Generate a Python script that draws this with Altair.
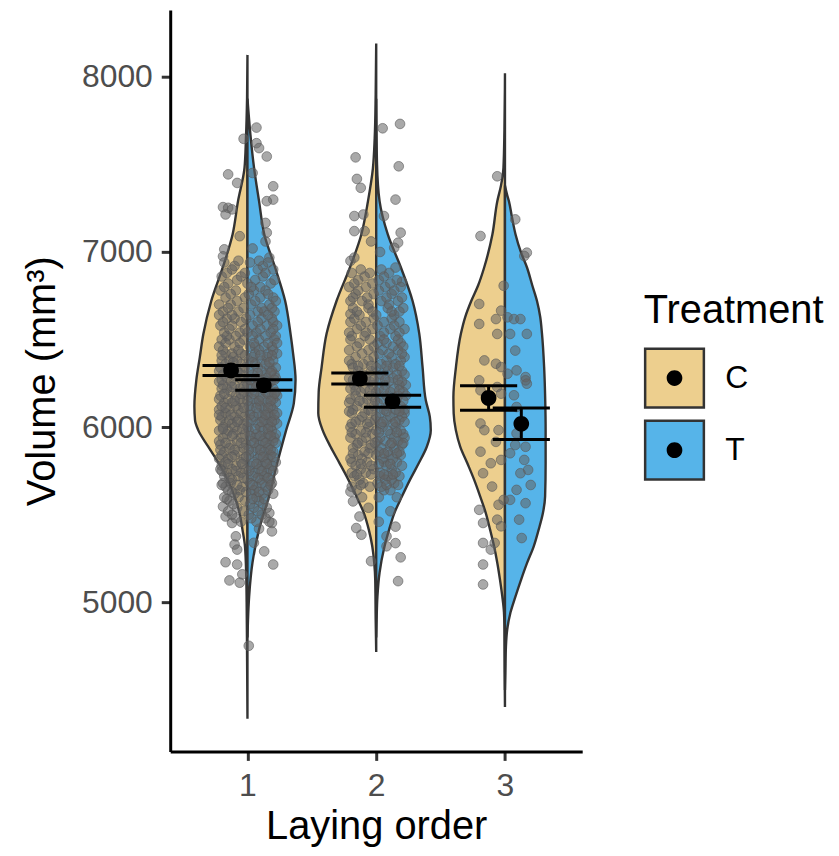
import altair as alt
import numpy as np
import pandas as pd

FONT = "Liberation Sans"

groups = [1, 2, 3]
treatments = ["C", "T"]
fill_colors = ["#EDCF8E", "#56B4E9"]

# violin half profiles: (Volume, relative width 0..1)
violin_C1 = [(8125, 0), (7875, 0.007), (7650, 0.026), (7480, 0.051), (7290, 0.163), (7100, 0.257),
             (6910, 0.428), (6720, 0.625), (6530, 0.762), (6400, 0.822), (6270, 0.882), (6120, 0.916),
             (6040, 0.905), (5983, 0.85), (5890, 0.68), (5795, 0.497), (5700, 0.342), (5605, 0.223),
             (5510, 0.137), (5415, 0.086), (5320, 0.043), (5150, 0.021), (5000, 0.014), (4700, 0.007),
             (4335, 0)]
violin_T1 = [(7875, 0), (7670, 0.051), (7477, 0.115), (7290, 0.200), (7100, 0.291), (6910, 0.479),
             (6720, 0.651), (6534, 0.743), (6420, 0.788), (6270, 0.830), (6136, 0.800), (5983, 0.668),
             (5795, 0.514), (5605, 0.372), (5415, 0.200), (5225, 0.086), (5034, 0.029), (4900, 0.009),
             (4800, 0)]
violin_C2 = [(8190, 0), (7900, 0.009), (7650, 0.026), (7477, 0.057), (7290, 0.142), (7100, 0.257),
             (6910, 0.455), (6720, 0.685), (6534, 0.856), (6343, 0.942), (6200, 0.993), (6080, 1.0),
             (5983, 0.925), (5888, 0.788), (5795, 0.634), (5699, 0.479), (5605, 0.342), (5511, 0.214),
             (5415, 0.128), (5320, 0.068), (5225, 0.034), (5130, 0.017), (4900, 0.009), (4716, 0)]
violin_T2 = [(7875, 0), (7500, 0.014), (7290, 0.058), (7100, 0.200), (6910, 0.428), (6720, 0.628),
             (6534, 0.743), (6343, 0.800), (6153, 0.856), (6060, 0.925), (5983, 0.942), (5888, 0.873),
             (5795, 0.736), (5699, 0.582), (5605, 0.445), (5511, 0.315), (5415, 0.223), (5320, 0.144),
             (5170, 0.058), (5034, 0.021), (4900, 0.007), (4800, 0)]
violin_C3 = [(8020, 0), (7700, 0.009), (7480, 0.026), (7380, 0.068), (7290, 0.132), (7100, 0.217),
             (6910, 0.360), (6810, 0.462), (6720, 0.582), (6630, 0.685), (6534, 0.760), (6343, 0.846),
             (6172, 0.890), (6078, 0.885), (5983, 0.848), (5888, 0.771), (5795, 0.651), (5699, 0.531),
             (5605, 0.428), (5511, 0.332), (5415, 0.257), (5320, 0.188), (5225, 0.132), (5130, 0.086),
             (5034, 0.046), (4943, 0.017), (4845, 0.009), (4600, 0.005), (4403, 0)]
violin_T3 = [(7380, 0), (7330, 0.034), (7290, 0.068), (7200, 0.120), (7100, 0.183), (7000, 0.274),
             (6910, 0.382), (6810, 0.471), (6720, 0.553), (6630, 0.608), (6534, 0.639), (6343, 0.676),
             (6153, 0.695), (5983, 0.702), (5795, 0.702), (5605, 0.693), (5511, 0.656), (5415, 0.582),
             (5320, 0.497), (5225, 0.382), (5130, 0.279), (5034, 0.182), (4943, 0.096), (4845, 0.039),
             (4750, 0.017), (4600, 0.007), (4500, 0)]

# group means with error limits
mean_grp = [1, 1, 2, 2, 3, 3]
mean_trt = ["C", "T", "C", "T", "C", "T"]
mean_val = [6324, 6239, 6277, 6148, 6167, 6019]
mean_lo = [6295, 6210, 6246, 6114, 6097, 5930]
mean_hi = [6352, 6271, 6309, 6182, 6237, 6110]

# jittered observations: (offset from group, Volume) and rows (Volume, [offsets])
g1_outer = [(0.07, 7710), (-0.03, 7646), (0.07, 7621), (0.09, 7593), (0.15, 7545), (0.04, 7451),
            (-0.15, 7443), (-0.08, 7394), (0.20, 7375), (0.20, 7299), (0.15, 7290), (-0.19, 7256),
            (-0.15, 7252), (-0.12, 7243), (-0.17, 7214), (0.14, 7166), (0.15, 7110), (0.14, 7060),
            (-0.18, 7015), (-0.19, 6975), (0.17, 6968), (0.04, 7020), (-0.06, 7090),
            (-0.19, 5680), (-0.19, 5547), (-0.17, 5490), (-0.12, 5453), (-0.09, 5377), (-0.10, 5330),
            (-0.08, 5301), (-0.17, 5229), (-0.08, 5216), (0.20, 5216), (0.13, 5291), (0.19, 5453),
            (0.19, 5405), (0.17, 5510), (-0.14, 5125), (-0.06, 5112), (-0.04, 5160), (0.01, 4752),
            (0.05, 5340), (0.09, 5420)]
g1_core = [
    (6940, [-0.18, 0.02, 0.16]), (6900, [-0.12, 0.08, 0.20]), (6860, [-0.20, -0.05, 0.12]),
    (6820, [-0.15, 0.00, 0.18]), (6780, [-0.21, -0.09, 0.05, 0.14]), (6740, [-0.17, -0.02, 0.10, 0.20]),
    (6700, [-0.22, -0.13, 0.03, 0.17]), (6660, [-0.19, -0.07, 0.08, 0.13, 0.21]),
    (6620, [-0.16, -0.10, -0.01, 0.11, 0.19]), (6580, [-0.21, -0.12, 0.04, 0.15, 0.23]),
    (6540, [-0.18, -0.06, 0.00, 0.07, 0.18]), (6500, [-0.20, -0.14, -0.03, 0.09, 0.21]),
    (6460, [-0.22, -0.10, 0.02, 0.06, 0.13, 0.19]), (6420, [-0.17, -0.12, -0.05, 0.06, 0.16, 0.23]),
    (6380, [-0.20, -0.14, -0.08, 0.01, 0.11, 0.20]), (6340, [-0.21, -0.15, -0.02, 0.08, 0.17, 0.22]),
    (6300, [-0.19, -0.11, -0.04, 0.04, 0.14, 0.21]), (6260, [-0.22, -0.13, -0.01, 0.05, 0.09, 0.18]),
    (6220, [-0.20, -0.16, -0.06, 0.03, 0.12, 0.20]), (6180, [-0.21, -0.09, 0.00, 0.10, 0.19, 0.23]),
    (6140, [-0.18, -0.12, -0.04, 0.07, 0.15, 0.22]), (6100, [-0.22, -0.14, -0.07, 0.02, 0.13, 0.20]),
    (6060, [-0.20, -0.10, -0.02, 0.05, 0.11, 0.18]), (6020, [-0.17, -0.12, -0.03, 0.08, 0.16, 0.23]),
    (5980, [-0.22, -0.15, -0.08, 0.01, 0.12, 0.19]), (5940, [-0.19, -0.05, 0.06, 0.14, 0.21]),
    (5900, [-0.21, -0.13, -0.01, 0.09, 0.17]), (5860, [-0.18, -0.07, 0.04, 0.13, 0.20]),
    (5820, [-0.22, -0.15, -0.03, 0.08, 0.16]), (5780, [-0.20, -0.09, 0.02, 0.11, 0.19]),
    (5740, [-0.16, -0.05, 0.06, 0.15]), (5700, [-0.12, 0.00, 0.10, 0.18]),
    (5660, [-0.17, -0.04, 0.07, 0.14]), (5620, [-0.10, 0.03, 0.12, 0.20]),
    (5580, [-0.14, -0.02, 0.09]), (5540, [-0.08, 0.05, 0.15]), (5500, [-0.12, 0.01, 0.11]),
    (5460, [-0.05, 0.07, 0.17]),
    (6920, [-0.10, 0.12]), (6840, [-0.08, 0.06, 0.21]), (6760, [-0.13, 0.01, 0.16]),
    (6680, [-0.15, -0.03, 0.11, 0.19]), (6600, [-0.19, -0.05, 0.08, 0.20]),
    (6520, [-0.16, -0.09, 0.04, 0.14, 0.22]), (6440, [-0.19, -0.07, 0.09, 0.20]),
    (6400, [-0.11, 0.04, 0.15]), (6360, [-0.17, -0.05, 0.06, 0.14]),
    (6320, [-0.22, -0.08, 0.01, 0.11, 0.19]), (6280, [-0.16, -0.06, 0.07, 0.15, 0.22]),
    (6240, [-0.19, -0.10, 0.00, 0.08, 0.16]), (6200, [-0.13, -0.03, 0.06, 0.14, 0.22]),
    (6160, [-0.22, -0.15, -0.06, 0.04, 0.12, 0.20]), (6120, [-0.20, -0.09, 0.01, 0.10, 0.18]),
    (6080, [-0.17, -0.05, 0.08, 0.16, 0.23]), (6040, [-0.21, -0.14, -0.07, 0.03, 0.13, 0.21]),
    (6000, [-0.19, -0.10, 0.00, 0.10, 0.18]), (5960, [-0.16, -0.11, -0.02, 0.07, 0.16, 0.22]),
    (5920, [-0.22, -0.08, 0.03, 0.12, 0.20]), (5880, [-0.14, -0.03, 0.07, 0.16]),
    (5840, [-0.20, -0.10, 0.01, 0.10, 0.18]), (5800, [-0.17, -0.05, 0.05, 0.14, 0.22]),
    (5760, [-0.21, -0.12, -0.01, 0.09, 0.17]), (5720, [-0.18, -0.07, 0.04, 0.13]),
    (5680, [-0.13, 0.02, 0.11, 0.19]), (5640, [-0.15, -0.06, 0.05, 0.16]),
    (5600, [-0.18, -0.07, 0.07]), (5560, [-0.11, 0.02, 0.12]), (5520, [-0.15, -0.03, 0.08]),
    (5480, [-0.09, 0.03, 0.14]),
    (6950, [-0.07, 0.09]), (6880, [-0.16, -0.02, 0.14]), (6800, [-0.18, 0.03, 0.10]),
    (6720, [-0.08, 0.06, 0.22]), (6640, [-0.22, -0.12, 0.02, 0.16]),
    (6560, [-0.14, -0.02, 0.10, 0.20]), (6480, [-0.17, -0.06, 0.05, 0.16, 0.23]),
    (6410, [-0.20, -0.02, 0.10, 0.19]), (6370, [-0.11, 0.04, 0.17]),
    (6310, [-0.15, -0.07, 0.08, 0.18]), (6270, [-0.20, 0.02, 0.12, 0.21]),
    (6230, [-0.12, -0.03, 0.07, 0.15]), (6190, [-0.18, -0.05, 0.05, 0.16, 0.21]),
    (6150, [-0.10, 0.00, 0.09, 0.18]), (6110, [-0.17, -0.03, 0.07, 0.16]),
    (6070, [-0.22, -0.13, 0.02, 0.14, 0.21]), (6030, [-0.08, 0.00, 0.11, 0.19]),
    (5990, [-0.19, -0.04, 0.06, 0.16]), (5950, [-0.12, 0.02, 0.10, 0.18]),
    (5910, [-0.17, -0.05, 0.05, 0.14, 0.22]), (5870, [-0.21, -0.10, 0.01, 0.10, 0.18]),
    (5830, [-0.12, -0.01, 0.12, 0.20]), (5790, [-0.15, -0.04, 0.07, 0.15]),
    (5750, [-0.20, -0.09, 0.01, 0.11, 0.20]), (5710, [-0.14, -0.03, 0.08, 0.16]),
    (5670, [-0.20, -0.08, 0.04, 0.18]), (5630, [-0.12, -0.01, 0.09]), (5590, [-0.16, 0.04, 0.13]),
]
g2_outer = [(0.185, 7731), (0.05, 7706), (-0.16, 7540), (0.175, 7489), (-0.15, 7417), (-0.12, 7366),
            (0.15, 7299), (-0.17, 7205), (-0.10, 7214), (0.06, 7205), (-0.17, 7119), (-0.09, 7119),
            (0.19, 7110), (0.17, 7053), (0.14, 7024), (-0.20, 6949), (-0.17, 6968), (0.15, 6911),
            (0.20, 6830), (-0.20, 6646), (0.03, 7000), (-0.04, 7060),
            (-0.20, 5632), (-0.18, 5576), (-0.13, 5490), (-0.155, 5424), (-0.115, 5386), (0.15, 5432),
            (0.15, 5338), (-0.04, 5235), (0.19, 5257), (0.17, 5121), (0.08, 5377), (0.08, 5320),
            (0.02, 5460), (-0.06, 5540), (0.11, 5520)]
g2_core = [
    (6880, [-0.19, -0.05, 0.10]), (6840, [-0.14, 0.02, 0.16]), (6800, [-0.21, -0.08, 0.07, 0.19]),
    (6760, [-0.16, -0.02, 0.12]), (6720, [-0.20, -0.11, 0.04, 0.17]), (6680, [-0.18, -0.06, 0.09, 0.21]),
    (6640, [-0.13, 0.00, 0.14]), (6600, [-0.20, -0.08, 0.06, 0.18]), (6560, [-0.15, -0.03, 0.11, 0.22]),
    (6520, [-0.19, -0.09, 0.03, 0.15]), (6480, [-0.13, 0.01, 0.08, 0.19]),
    (6440, [-0.21, -0.06, 0.05, 0.17]), (6400, [-0.16, -0.02, 0.12, 0.22]),
    (6360, [-0.19, -0.10, 0.04, 0.15]), (6320, [-0.14, -0.04, 0.09, 0.20]),
    (6280, [-0.21, -0.08, 0.02, 0.13]), (6240, [-0.17, -0.03, 0.07, 0.18, 0.23]),
    (6200, [-0.12, 0.00, 0.11, 0.21]), (6160, [-0.20, -0.07, 0.05, 0.16]),
    (6120, [-0.15, -0.02, 0.09, 0.19]), (6080, [-0.19, -0.09, 0.03, 0.14, 0.22]),
    (6040, [-0.13, -0.01, 0.08, 0.18]), (6000, [-0.20, -0.06, 0.05, 0.15]),
    (5960, [-0.16, -0.03, 0.11, 0.21]), (5920, [-0.11, 0.01, 0.07, 0.17]),
    (5880, [-0.18, -0.05, 0.04, 0.14]), (5840, [-0.14, 0.00, 0.10, 0.19]),
    (5800, [-0.19, -0.07, 0.06, 0.16]), (5760, [-0.12, -0.02, 0.12]),
    (5720, [-0.17, 0.03, 0.09, 0.18]), (5680, [-0.10, 0.01, 0.14]), (5640, [-0.15, 0.06, 0.11]),
    (6860, [-0.09, 0.06]), (6780, [-0.14, 0.02, 0.14]), (6700, [-0.06, 0.10]),
    (6620, [-0.17, -0.02, 0.12]), (6540, [-0.21, -0.08, 0.06, 0.18]),
    (6460, [-0.15, -0.02, 0.13, 0.21]), (6380, [-0.21, -0.06, 0.08, 0.19]),
    (6340, [-0.18, 0.00, 0.13]), (6300, [-0.10, 0.04, 0.16, 0.22]),
    (6260, [-0.15, -0.05, 0.10, 0.20]), (6220, [-0.20, -0.09, 0.02, 0.14]),
    (6180, [-0.16, -0.04, 0.08, 0.17, 0.23]), (6140, [-0.21, -0.10, 0.01, 0.12]),
    (6100, [-0.18, -0.06, 0.06, 0.15, 0.22]), (6060, [-0.11, 0.00, 0.11, 0.20]),
    (6020, [-0.19, -0.07, 0.04, 0.13]), (5980, [-0.12, 0.00, 0.09, 0.19]),
    (5940, [-0.20, -0.08, 0.03, 0.14, 0.22]), (5900, [-0.15, -0.04, 0.11, 0.20]),
    (5860, [-0.09, 0.02, 0.09, 0.18]), (5820, [-0.20, -0.11, 0.05, 0.13]),
    (5780, [-0.16, -0.04, 0.08, 0.20]), (5740, [-0.19, -0.08, 0.03, 0.15]),
    (5700, [-0.13, 0.07, 0.12]), (5660, [-0.19, -0.05, 0.04]), (5600, [-0.11, 0.02, 0.16]),
    (6900, [-0.12, 0.04]), (6820, [-0.17, -0.03, 0.11]), (6740, [-0.18, -0.07, 0.08, 0.20]),
    (6660, [-0.15, -0.03, 0.12, 0.18]), (6580, [-0.12, 0.01, 0.14]),
    (6500, [-0.20, -0.05, 0.06, 0.17]), (6420, [-0.11, 0.02, 0.10, 0.20]),
    (6350, [-0.14, -0.04, 0.08, 0.18]), (6270, [-0.18, -0.02, 0.07, 0.17]),
    (6210, [-0.16, -0.05, 0.06, 0.18]), (6150, [-0.13, -0.01, 0.11, 0.21]),
    (6090, [-0.21, -0.04, 0.08, 0.18]), (6030, [-0.16, -0.05, 0.05, 0.15, 0.22]),
    (5970, [-0.19, -0.08, 0.02, 0.16]), (5910, [-0.14, -0.01, 0.12, 0.21]),
    (5850, [-0.18, -0.06, 0.06, 0.16]), (5790, [-0.12, 0.02, 0.11]),
    (5730, [-0.15, -0.04, 0.06, 0.13]), (5670, [-0.12, 0.08, 0.17]),
]
g3_pts = [(-0.06, 7432), (0.08, 7186), (-0.19, 7091), (0.17, 6996), (0.15, 6977), (-0.01, 6807),
          (-0.20, 6703), (-0.03, 6665), (-0.07, 6617), (0.02, 6627), (0.07, 6617), (0.12, 6617),
          (-0.20, 6589), (-0.06, 6532), (0.04, 6532), (0.17, 6532), (0.08, 6437), (-0.16, 6381),
          (-0.07, 6362), (-0.03, 6343), (0.02, 6305), (0.09, 6324), (0.16, 6286), (0.17, 6248),
          (-0.20, 6267), (-0.06, 6229), (0.16, 6267), (-0.19, 6210), (-0.14, 6153), (-0.03, 6191),
          (0.07, 6182), (0.09, 6115), (-0.19, 6021), (-0.16, 5983), (-0.05, 5983), (-0.07, 5916),
          (0.09, 5964), (0.08, 5898), (0.04, 5851), (0.16, 5888), (0.15, 5813), (0.18, 5756),
          (0.12, 5737), (0.20, 5670), (0.09, 5642), (0.04, 5585), (0.16, 5566), (-0.19, 5860),
          (-0.11, 5794), (-0.03, 5813), (-0.17, 5737), (-0.10, 5661), (-0.01, 5585), (-0.05, 5557),
          (-0.20, 5528), (-0.17, 5453), (-0.06, 5472), (-0.03, 5434), (-0.08, 5339), (-0.17, 5339),
          (-0.11, 5301), (-0.17, 5216), (-0.17, 5102), (0.11, 5472), (0.13, 5367)]

# ---------------- tables ----------------
HALF = 0.45      # half violin width (x units)
DODGE = 0.127    # dodge of the summary per treatment
CAP = 0.222      # half width of the error bar caps

profiles = {(1, "C"): violin_C1, (1, "T"): violin_T1, (2, "C"): violin_C2,
            (2, "T"): violin_T2, (3, "C"): violin_C3, (3, "T"): violin_T3}
vrows = []
for (g, t), prof in profiles.items():
    for vol, w in prof:
        vrows.append({"grp": g, "Treatment": t, "Volume": vol, "vw": w})
vdf = pd.DataFrame(vrows)
isC = vdf["Treatment"] == "C"
vdf["xl"] = np.where(isC, vdf["grp"] - HALF * vdf["vw"], vdf["grp"])
vdf["xr"] = np.where(isC, vdf["grp"], vdf["grp"] + HALF * vdf["vw"])

prows = []
for g, outer, core in [(1, g1_outer, g1_core), (2, g2_outer, g2_core)]:
    for off, vol in outer:
        prows.append({"grp": g, "off": off, "Volume": vol})
    for vol, offs in core:
        for off in offs:
            prows.append({"grp": g, "off": off, "Volume": vol})
for off, vol in g3_pts:
    prows.append({"grp": 3, "off": off, "Volume": vol})
pdf = pd.DataFrame(prows)
pdf["px"] = pdf["grp"] + pdf["off"]

mdf = pd.DataFrame({"grp": mean_grp, "Treatment": mean_trt, "mean": mean_val,
                    "lo": mean_lo, "hi": mean_hi})
mdf["Tdot"] = mdf["Treatment"].str.lower()
mdf["xc"] = mdf["grp"] + np.where(mdf["Treatment"] == "C", -DODGE, DODGE)
mdf["capL"] = mdf["xc"] - CAP
mdf["capR"] = mdf["xc"] + CAP

# ---------------- scales / axes ----------------
xscale = alt.Scale(domain=[0.4, 3.6], nice=False, zero=False)
yscale = alt.Scale(domain=[4149, 8381], nice=False, zero=False)
xaxis = alt.Axis(values=[1, 2, 3], format="d", title="Laying order")
yaxis = alt.Axis(values=[5000, 6000, 7000, 8000], format="d", title="Volume (mm³)")

LX, LY = 475.75, 282.3
TITLE_FS, TITLE_PAD = 40, 16.5
fill_legend = alt.Legend(
    title="Treatment", orient="none", legendX=LX, legendY=LY, padding=0, zindex=0,
    symbolType="square", symbolSize=3481, symbolStrokeColor="#333333", symbolStrokeWidth=2.5,
    symbolOpacity=1, titleFont=FONT, titleFontSize=TITLE_FS, titleFontWeight="normal",
    titleColor="black", titleLimit=400, titlePadding=TITLE_PAD, labelFont=FONT, labelFontSize=32,
    labelColor="black", labelOffset=20, rowPadding=2.5)
DOT = ("M-1,-1L-1,-1M1,1L1,1M-0.267,0A0.267,0.267,0,1,1,0.267,0"
       "A0.267,0.267,0,1,1,-0.267,0Z")
dot_legend = alt.Legend(
    title=None, orient="none", legendX=LX, legendY=LY + TITLE_FS + TITLE_PAD, padding=0, zindex=1,
    symbolSize=3481, symbolFillColor="black", symbolStrokeColor="transparent",
    symbolStrokeWidth=2.5, symbolOpacity=1, labelExpr="''", labelFontSize=32, labelOffset=20,
    rowPadding=2.5)

violin = alt.Chart(vdf).mark_area(
    orient="horizontal", interpolate="monotone", stroke="#333333", strokeWidth=2.4
).encode(
    y=alt.Y("Volume:Q", scale=yscale, axis=yaxis),
    x=alt.X("xl:Q", scale=xscale, axis=xaxis),
    x2="xr:Q",
    fill=alt.Fill("Treatment:N", scale=alt.Scale(domain=treatments, range=fill_colors),
                  legend=fill_legend),
    detail="grp:N",
)

points = alt.Chart(pdf).mark_circle(
    size=95, fill="#636363", fillOpacity=0.55, stroke="#5A5A5A", strokeOpacity=0.6, strokeWidth=1
).encode(
    x=alt.X("px:Q", scale=xscale, axis=xaxis),
    y=alt.Y("Volume:Q", scale=yscale, axis=yaxis),
)

cap_lo = alt.Chart(mdf).mark_rule(color="black", strokeWidth=3).encode(
    x=alt.X("capL:Q", scale=xscale, axis=xaxis), x2="capR:Q",
    y=alt.Y("lo:Q", scale=yscale, axis=yaxis))
cap_hi = alt.Chart(mdf).mark_rule(color="black", strokeWidth=3).encode(
    x=alt.X("capL:Q", scale=xscale, axis=xaxis), x2="capR:Q",
    y=alt.Y("hi:Q", scale=yscale, axis=yaxis))
vbar = alt.Chart(mdf).mark_rule(color="black", strokeWidth=3).encode(
    x=alt.X("xc:Q", scale=xscale, axis=xaxis),
    y=alt.Y("lo:Q", scale=yscale, axis=yaxis), y2="hi:Q")
means = alt.Chart(mdf).mark_point(filled=True, color="black", size=3481, opacity=1).encode(
    x=alt.X("xc:Q", scale=xscale, axis=xaxis),
    y=alt.Y("mean:Q", scale=yscale, axis=yaxis),
    shape=alt.Shape("Tdot:N", scale=alt.Scale(domain=["c", "t"], range=[DOT, DOT]),
                    legend=dot_legend),
)

chart = alt.layer(violin, points, cap_lo, cap_hi, vbar, means).properties(
    width=414, height=745,
    padding={"left": 163, "top": 0, "right": 250, "bottom": 95},
    autosize=alt.AutoSizeParams(type="none"),
    background="white",
).configure_view(strokeWidth=0).configure_axis(
    domainColor="black", domainWidth=3, tickColor="#333333", tickWidth=3, tickSize=9,
    labelFont=FONT, labelFontSize=32, labelColor="#4D4D4D", labelPadding=9,
    titleFont=FONT, titleFontSize=40, titleFontWeight="normal", titleColor="black", grid=False,
).configure_axisY(titlePadding=19).configure_axisX(titlePadding=5, labelPadding=10)

chart.save("out.html", embed_options={"renderer": "svg", "actions": False})
